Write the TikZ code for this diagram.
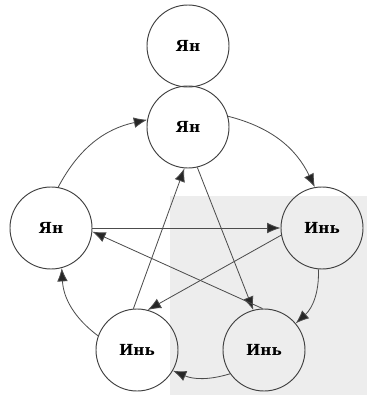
\documentclass[tikz,border=0pt]{standalone}
\usepackage{fontspec}
\setmainfont{DejaVu Serif}
\usepackage{tikz}
\usetikzlibrary{arrows.meta}
\tikzset{elem/.style={draw=black!75, circle, minimum size=2.46cm, inner sep=0pt, font=\bfseries\fontsize{13}{15}\selectfont, line width=0.8pt},
flow/.style={draw=black!70, -{Latex[length=4mm, width=3.2mm, fill=black!85]}, line width=0.7pt}}

\begin{document}
\begin{tikzpicture}[x=0.03cm, y=-0.03cm]
  \useasboundingbox (0,0) rectangle (367,395);
  \fill[black!7] (170,196) rectangle (367,395);
  \node[elem] (yan0) at (188,46) {Ян};
  \node[elem] (yan1) at (188,127) {Ян};
  \node[elem] (yan2) at (51,228) {Ян};
  \node[elem] (yin1) at (322,228) {Инь};
  \node[elem] (yin2) at (264,350) {Инь};
  \node[elem] (yin3) at (137,350) {Инь};
  % outer cycle
  \draw[flow] (yan2.80) to[bend left=25] (yan1.170);
  \draw[flow] (yan1.15) to[bend left=25] (yin1.100);
  \draw[flow] (yin1.265) to[bend left=25] (yin2.40);
  \draw[flow] (yin2.215) to[bend left=20] (yin3.-30);
  \draw[flow] (yin3.160) to[bend left=25] (yan2.-75);
  % star
  \draw[flow] (yan2) -- (yin1);
  \draw[flow] (yin1.190) -- (yin3.75);
  \draw[flow] (yin3.95) -- (yan1.265);
  \draw[flow] (yan1.283) -- (yin2.105);
  \draw[flow] (yin2.92) -- (yan2.-5);
\end{tikzpicture}
\end{document}
